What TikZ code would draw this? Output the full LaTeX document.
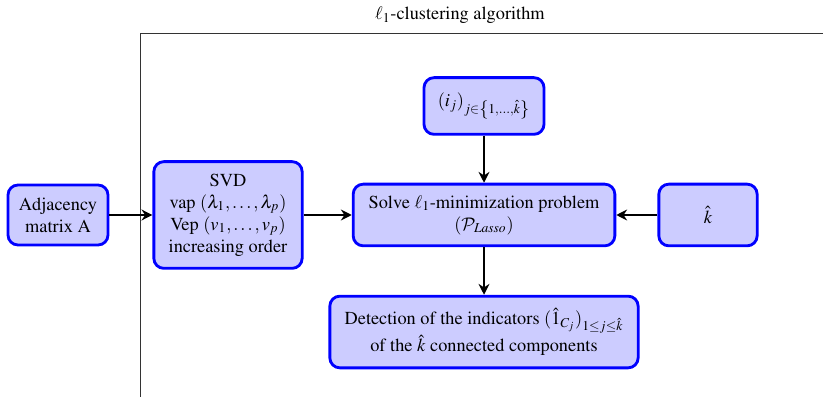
\documentclass[tikz,border=0pt]{standalone}
\usepackage[T1]{fontenc}
\usepackage{mathptmx}
\DeclareMathAlphabet{\mathcal}{OMS}{cmsy}{m}{n}
\usetikzlibrary{arrows.meta}
\begin{document}
\begin{tikzpicture}[x=0.6pt,y=-0.6pt,
  box/.style={draw=blue, fill=blue!20, line width=1.7pt, rounded corners=6pt,
    align=center, inner sep=2pt, font=\fontsize{11}{13.2}\selectfont},
  flow/.style={-{Stealth[length=6.5pt,width=6.5pt]}, line width=1.5pt, black}]
\useasboundingbox (0,0) rectangle (823,397);
% enclosing frame of the algorithm
\draw[line width=0.5pt, black!80] (140,397) -- (140,33) -- (823,33);
\node[font=\fontsize{11}{13}\selectfont] (title) at (460,15) {$\ell_1$-clustering algorithm};
% boxes
\node[box, minimum width=60pt, minimum height=36pt] (adj) at (58,215) {Adjacency\\matrix A};
\node[box, minimum width=89pt, minimum height=64pt] (svd) at (228,215)
  {SVD\\vap $(\lambda_1,\ldots,\lambda_p)$\\Vep $(v_1,\ldots,v_p)$\\increasing order};
\node[box, minimum width=157pt, minimum height=37pt] (solve) at (484,215)
  {Solve $\ell_1$-minimization problem\\$(\mathcal{P}_{Lasso})$};
\node[box, minimum width=59pt, minimum height=37pt] (khat) at (708,215) {$\hat{k}$};
\node[box, minimum width=72pt, minimum height=34pt] (ij) at (484,106)
  {$(i_j)_{j\in\left\{1,\ldots,\hat{k}\right\}}$};
\node[box, minimum width=185pt, minimum height=43pt] (det) at (484,332)
  {Detection of the indicators $(\hat{1}_{C_j})_{1\leq j\leq\hat{k}}$\\of the $\hat{k}$ connected components};
% connectors
\draw[flow] (adj) -- (svd);
\draw[flow] (svd) -- (solve);
\draw[flow] (ij) -- (solve);
\draw[flow] (khat) -- (solve);
\draw[flow] (solve) -- (det);
\end{tikzpicture}
\end{document}
